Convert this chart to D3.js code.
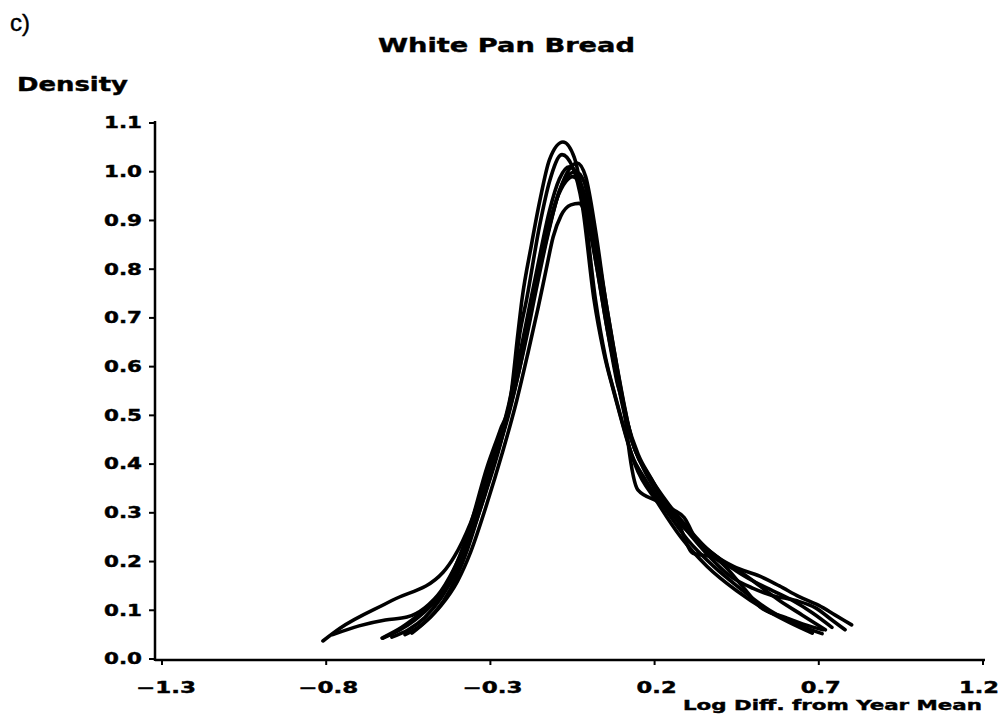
<!DOCTYPE html>
<html>
<head>
<meta charset="utf-8">
<script src="https://cdn.jsdelivr.net/npm/d3@7"></script>
<style>
  body { margin: 0; background: #fff; }
  text { font-family: "DejaVu Sans", "Liberation Sans", sans-serif; font-weight: bold; fill: #000; stroke: #000; stroke-width: 0.4px; }
</style>
</head>
<body>
<div id="chart"></div>
<script>
// tick values and labels
const xTicks = [-1.3, -0.8, -0.3, 0.2, 0.7, 1.2];
const xTickLabels = ["\u22121.3", "\u22120.8", "\u22120.3", "0.2", "0.7", "1.2"];
const yTicks = [0.0, 0.1, 0.2, 0.3, 0.4, 0.5, 0.6, 0.7, 0.8, 0.9, 1.0, 1.1];
const yTickLabels = ["0.0", "0.1", "0.2", "0.3", "0.4", "0.5", "0.6", "0.7", "0.8", "0.9", "1.0", "1.1"];

// density curves, one per year, [log diff, density]
const curve1 = [[-0.63,0.043],[-0.57,0.065],[-0.51,0.095],[-0.463,0.121],[-0.42,0.17],[-0.368,0.259],[-0.31,0.394],[-0.27,0.47],[-0.24,0.53],[-0.216,0.669],[-0.204,0.737],[-0.175,0.85],[-0.149,0.942],[-0.12,1.025],[-0.079,1.061],[-0.045,1.03],[-0.015,0.93],[0.02,0.737],[0.05,0.62],[0.08,0.54],[0.10,0.49],[0.14,0.40],[0.21,0.32],[0.28,0.25],[0.36,0.19],[0.45,0.14],[0.54,0.10],[0.61,0.075],[0.68,0.053]];
const curve2 = [[-0.81,0.037],[-0.758,0.063],[-0.60,0.12],[-0.444,0.178],[-0.41,0.21],[-0.36,0.28],[-0.30,0.40],[-0.26,0.48],[-0.23,0.57],[-0.21,0.67],[-0.19,0.737],[-0.15,0.89],[-0.12,0.98],[-0.082,1.035],[-0.05,1.01],[-0.02,0.93],[0.015,0.74],[0.045,0.63],[0.075,0.55],[0.095,0.50],[0.13,0.42],[0.17,0.37],[0.23,0.31],[0.30,0.245],[0.38,0.19],[0.46,0.145],[0.55,0.10],[0.63,0.072],[0.71,0.052]];
const curve3 = [[-0.78,0.05],[-0.70,0.068],[-0.62,0.08],[-0.554,0.086],[-0.50,0.105],[-0.45,0.14],[-0.40,0.20],[-0.35,0.28],[-0.29,0.40],[-0.245,0.50],[-0.21,0.60],[-0.175,0.72],[-0.13,0.86],[-0.09,0.96],[-0.06,1.005],[-0.036,1.018],[-0.01,0.99],[0.02,0.88],[0.05,0.74],[0.08,0.62],[0.11,0.51],[0.14,0.43],[0.18,0.38],[0.24,0.32],[0.30,0.27],[0.37,0.22],[0.44,0.19],[0.52,0.17],[0.58,0.15],[0.64,0.128],[0.70,0.11],[0.75,0.09],[0.80,0.07]];
const curve4 = [[-0.627,0.043],[-0.58,0.058],[-0.53,0.08],[-0.48,0.11],[-0.43,0.155],[-0.39,0.21],[-0.345,0.29],[-0.30,0.38],[-0.255,0.48],[-0.22,0.57],[-0.19,0.66],[-0.16,0.76],[-0.125,0.87],[-0.09,0.96],[-0.06,0.995],[-0.04,1.0],[-0.015,0.98],[0.015,0.88],[0.045,0.76],[0.075,0.64],[0.105,0.53],[0.13,0.45],[0.16,0.40],[0.22,0.33],[0.29,0.27],[0.36,0.215],[0.43,0.17],[0.50,0.145],[0.56,0.13],[0.63,0.12],[0.69,0.105],[0.74,0.08],[0.78,0.06]];
const curve5 = [[-0.539,0.053],[-0.50,0.075],[-0.45,0.11],[-0.40,0.16],[-0.36,0.22],[-0.31,0.32],[-0.265,0.42],[-0.22,0.53],[-0.185,0.63],[-0.155,0.72],[-0.13,0.80],[-0.109,0.866],[-0.085,0.91],[-0.055,0.932],[-0.03,0.935],[-0.005,0.90],[0.025,0.80],[0.055,0.68],[0.085,0.57],[0.11,0.50],[0.12,0.44],[0.149,0.347],[0.216,0.32],[0.268,0.285],[0.317,0.217],[0.378,0.209],[0.469,0.148],[0.521,0.107],[0.60,0.085],[0.66,0.07],[0.713,0.06]];
const curve6 = [[-0.60,0.045],[-0.55,0.06],[-0.50,0.085],[-0.45,0.125],[-0.40,0.185],[-0.355,0.26],[-0.315,0.34],[-0.27,0.44],[-0.235,0.54],[-0.20,0.65],[-0.17,0.75],[-0.14,0.84],[-0.10,0.94],[-0.07,0.98],[-0.05,0.99],[-0.025,0.975],[0.005,0.90],[0.035,0.78],[0.065,0.65],[0.09,0.56],[0.12,0.47],[0.16,0.40],[0.20,0.35],[0.25,0.31],[0.29,0.29],[0.33,0.24],[0.40,0.20],[0.47,0.175],[0.52,0.15],[0.58,0.12],[0.65,0.09],[0.72,0.06]];
const curve7 = [[-0.56,0.05],[-0.52,0.065],[-0.47,0.095],[-0.42,0.145],[-0.375,0.215],[-0.33,0.31],[-0.285,0.41],[-0.25,0.50],[-0.215,0.61],[-0.185,0.71],[-0.155,0.81],[-0.12,0.92],[-0.09,0.985],[-0.06,1.01],[-0.035,0.995],[-0.005,0.92],[0.025,0.80],[0.055,0.68],[0.085,0.58],[0.115,0.49],[0.15,0.42],[0.19,0.37],[0.25,0.30],[0.32,0.25],[0.39,0.21],[0.45,0.18],[0.50,0.16],[0.56,0.14],[0.62,0.12],[0.68,0.095],[0.74,0.065]];
const curves = [curve1, curve2, curve3, curve4, curve5, curve6, curve7];

const width = 1005, height = 714;

const svg = d3.select('#chart')
    .append('svg')
        .attr('width', width)
        .attr('height', height);

// scales
const x = d3.scaleLinear().domain([-1.3, 1.2]).range([162, 983]);
const y = d3.scaleLinear().domain([0, 1.1]).range([659, 123]);
const axisX = 155;

// panel letter
svg.append('text')
    .attr('x', 10).attr('y', 31)
    .style('font-weight', 'normal')
    .style('font-family', '"Liberation Sans", sans-serif')
    .style('font-size', '24px')
    .text('c)');

// title
svg.append('text')
    .attr('x', 378).attr('y', 52)
    .attr('textLength', 257).attr('lengthAdjust', 'spacingAndGlyphs')
    .style('font-size', '20px')
    .text('White Pan Bread');

// y label
svg.append('text')
    .attr('x', 17).attr('y', 91)
    .attr('textLength', 111).attr('lengthAdjust', 'spacingAndGlyphs')
    .style('font-size', '19px')
    .text('Density');

// y axis
svg.append('line')
    .attr('x1', axisX).attr('x2', axisX)
    .attr('y1', y(1.1) - 2).attr('y2', y(0) + 2)
    .attr('stroke', '#000').attr('stroke-width', 2.5);

const yt = svg.selectAll('.ytick')
    .data(yTicks)
    .enter()
    .append('g')
        .attr('class', 'ytick')
        .attr('transform', d => `translate(0,${y(d)})`);

yt.append('line')
    .attr('x1', axisX - 6).attr('x2', axisX)
    .attr('stroke', '#000').attr('stroke-width', 2);

yt.append('text')
    .attr('x', 142).attr('dy', '0.36em')
    .attr('text-anchor', 'end')
    .attr('textLength', 38).attr('lengthAdjust', 'spacingAndGlyphs')
    .style('font-size', '15px')
    .text((d, i) => yTickLabels[i]);

// x axis
svg.append('line')
    .attr('x1', axisX).attr('x2', x(1.2) + 2)
    .attr('y1', y(0) + 1).attr('y2', y(0) + 1)
    .attr('stroke', '#000').attr('stroke-width', 2.5);

const xt = svg.selectAll('.xtick')
    .data(xTicks)
    .enter()
    .append('g')
        .attr('class', 'xtick')
        .attr('transform', d => `translate(${x(d)},${y(0) + 1})`);

xt.append('line')
    .attr('y1', 0).attr('y2', 5)
    .attr('stroke', '#000').attr('stroke-width', 2);

xt.append('text')
    .attr('x', (d, i) => i === 0 ? 4 : (i === 5 ? -4 : 2))
    .attr('y', 33)
    .attr('text-anchor', 'middle')
    .attr('textLength', (d, i) => xTickLabels[i].length > 3 ? 60 : 40)
    .attr('lengthAdjust', 'spacingAndGlyphs')
    .style('font-size', '15px')
    .text((d, i) => xTickLabels[i]);

// x label
svg.append('text')
    .attr('x', 683).attr('y', 710)
    .attr('textLength', 299).attr('lengthAdjust', 'spacingAndGlyphs')
    .style('font-size', '14px')
    .text('Log Diff. from Year Mean');

// curves
const line = d3.line()
    .x(d => x(d[0]))
    .y(d => y(d[1]))
    .curve(d3.curveMonotoneX);

svg.selectAll('.curve')
    .data(curves)
    .enter()
    .append('path')
        .attr('class', 'curve')
        .attr('d', line)
        .attr('fill', 'none')
        .attr('stroke', '#000')
        .attr('stroke-width', 3.6)
        .attr('stroke-linejoin', 'round')
        .attr('stroke-linecap', 'round');
</script>
</body>
</html>
